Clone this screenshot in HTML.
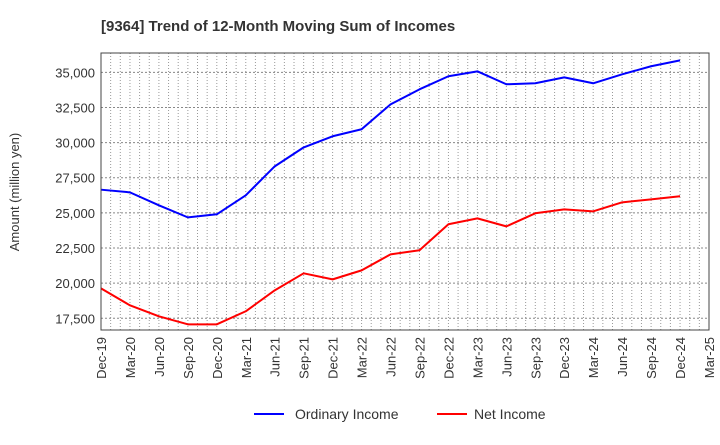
<!DOCTYPE html>
<html><head><meta charset="utf-8"><style>
body{margin:0;background:#fff;font-family:"Liberation Sans",sans-serif}
</style></head><body>
<svg id="chart" width="720" height="440" xmlns="http://www.w3.org/2000/svg" font-family="Liberation Sans, sans-serif">
<text x="101" y="31" font-size="15" font-weight="bold" fill="#333">[9364]  Trend of 12-Month Moving Sum of Incomes</text>
<text transform="translate(19,192) rotate(-90)" text-anchor="middle" font-size="13" fill="#333">Amount (million yen)</text>
<g id="grid"></g><g id="axes"></g><g id="series"></g>
<rect x="101" y="53" width="608" height="277" fill="none" stroke="#444" stroke-width="1"/>
<g>
<line x1="254" y1="414" x2="284" y2="414" stroke="#0000ff" stroke-width="2"/>
<text x="295" y="419" font-size="14" fill="#333">Ordinary Income</text>
<line x1="437" y1="414" x2="467" y2="414" stroke="#ff0000" stroke-width="2"/>
<text x="474" y="419" font-size="14" fill="#333">Net Income</text>
</g>
</svg>
<script>
const categories=["Dec-19","Mar-20","Jun-20","Sep-20","Dec-20","Mar-21","Jun-21","Sep-21","Dec-21","Mar-22","Jun-22","Sep-22","Dec-22","Mar-23","Jun-23","Sep-23","Dec-23","Mar-24","Jun-24","Sep-24","Dec-24","Mar-25"];
const ordinaryIncome=[26650,26460,25540,24680,24900,26250,28310,29660,30450,30950,32720,33790,34720,35070,34150,34220,34640,34220,34860,35430,35850];
const netIncome=[19630,18420,17640,17070,17070,18000,19490,20700,20270,20910,22050,22340,24190,24610,24040,24970,25250,25110,25750,25960,26180];
const yTicks=[17500,20000,22500,25000,27500,30000,32500,35000];
const NS="http://www.w3.org/2000/svg";
const L=101,R=709,T=53,B=330;
const x=i=>L+i*(R-L)/(categories.length-1);
const y=v=>318.3-(v-17500)/2500*35.14;
function mk(tag,attrs,parent){const e=document.createElementNS(NS,tag);for(const k in attrs)e.setAttribute(k,attrs[k]);document.getElementById(parent).appendChild(e);return e;}
for(let m=1;m<(categories.length-1)*3;m++){
 const xx=L+m*(R-L)/((categories.length-1)*3);
 const g=mk('line',{x1:xx,x2:xx,y1:T,y2:B,stroke:'#999','stroke-dasharray':'1,2','stroke-width':1},'grid');
 
 
}
yTicks.forEach(v=>{
 const g=mk('line',{x1:L,x2:R,y1:y(v),y2:y(v),stroke:'#888','stroke-dasharray':'2,2','stroke-width':1},'grid');
 
 
 const t=mk('text',{x:L-6,y:y(v)+5,'text-anchor':'end','font-size':13,fill:'#333'},'axes');
 t.textContent=v.toLocaleString('en-US');
 
 
});
categories.forEach((c,i)=>{
 const t=mk('text',{transform:`translate(${x(i)+5},337) rotate(-90)`,'text-anchor':'end','font-size':13,fill:'#333'},'axes');
 t.textContent=c;
 
 
});
function line(vals,color,name){
 const p=mk('polyline',{points:vals.map((v,i)=>x(i)+','+y(v)).join(' '),fill:'none',stroke:color,'stroke-width':2,'stroke-linejoin':'round'},'series');
 
 
}
line(ordinaryIncome,'#0000ff','ordinary-income-line');
line(netIncome,'#ff0000','net-income-line');
</script>
</body></html>
